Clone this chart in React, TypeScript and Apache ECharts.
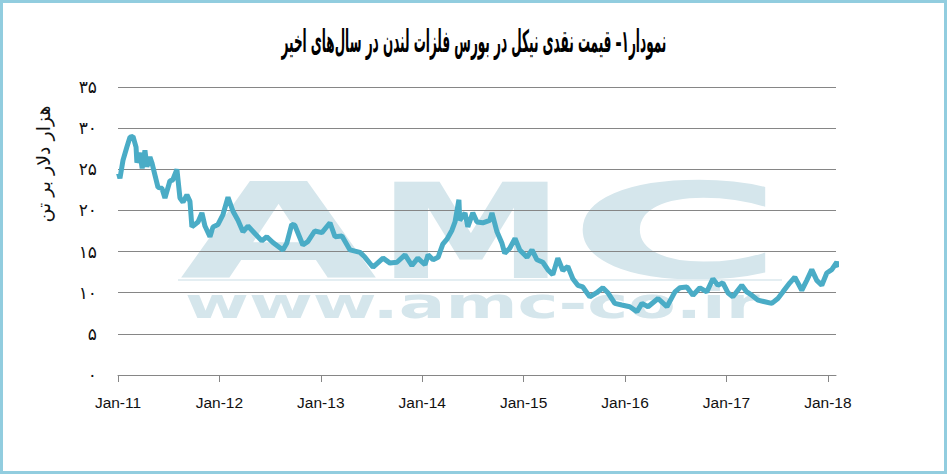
import React, { useEffect, useRef } from "react";
import * as echarts from "echarts";

// ---- data ----
const dates: string[] = [
  "2011-01-03","2011-01-08","2011-01-19","2011-02-02","2011-02-13","2011-02-24","2011-03-07","2011-03-10","2011-03-21","2011-03-29",
  "2011-04-08","2011-04-15","2011-04-26","2011-05-03","2011-05-14","2011-05-25","2011-06-08","2011-06-19","2011-07-07","2011-07-17",
  "2011-08-01","2011-08-12","2011-08-23","2011-09-06","2011-09-17","2011-09-24","2011-10-16","2011-10-30","2011-11-10","2011-11-28",
  "2011-12-09","2011-12-27","2012-01-14","2012-02-01","2012-02-19","2012-03-08","2012-03-26","2012-04-13","2012-05-08","2012-06-02",
  "2012-06-20","2012-07-12","2012-08-17","2012-08-31","2012-09-18","2012-09-29","2012-10-28","2012-11-15","2012-12-10","2013-01-05",
  "2013-02-03","2013-02-21","2013-03-18","2013-04-16","2013-05-22","2013-06-09","2013-07-08","2013-08-13","2013-09-07","2013-10-02",
  "2013-10-31","2013-11-25","2013-12-16","2014-01-11","2014-01-22","2014-02-09","2014-02-27","2014-03-16","2014-03-31","2014-04-18",
  "2014-04-29","2014-05-13","2014-05-16","2014-06-04","2014-06-14","2014-07-02","2014-07-17","2014-08-07","2014-09-01","2014-09-09",
  "2014-09-27","2014-10-15","2014-10-25","2014-11-12","2014-12-01","2014-12-18","2015-01-13","2015-01-31","2015-02-18","2015-03-11",
  "2015-03-29","2015-04-16","2015-05-04","2015-05-22","2015-06-09","2015-06-27","2015-07-15","2015-08-02","2015-08-27","2015-09-21",
  "2015-10-13","2015-10-31","2015-11-25","2015-12-20","2016-01-18","2016-02-13","2016-03-02","2016-03-24","2016-04-29","2016-05-31",
  "2016-06-29","2016-07-17","2016-08-11","2016-09-02","2016-09-27","2016-10-22","2016-11-13","2016-12-01","2016-12-19","2017-01-06",
  "2017-01-24","2017-02-25","2017-03-15","2017-04-02","2017-04-24","2017-05-19","2017-06-13","2017-07-05","2017-07-23","2017-08-17",
  "2017-09-04","2017-09-29","2017-10-17","2017-11-04","2017-11-22","2017-12-10","2017-12-28","2018-01-15","2018-02-02","2018-02-09",
];
const prices: number[] = [
  24.5,23.9,26.1,27.7,28.9,29.0,27.7,25.8,27.0,25.1,
  27.3,25.3,26.5,25.8,24.3,22.8,22.7,21.5,23.6,23.7,
  25.0,21.5,21.0,21.9,21.1,18.0,18.6,19.7,18.1,16.8,
  18.0,18.3,19.5,21.6,19.9,18.8,17.4,18.1,17.2,16.3,
  16.8,16.1,15.2,16.0,18.3,18.2,15.8,16.2,17.5,17.3,
  18.5,16.8,16.9,15.2,14.9,14.3,13.1,14.2,13.6,13.7,
  14.6,13.3,14.2,13.4,14.6,14.0,14.3,15.9,16.5,17.6,
  18.6,21.3,18.8,19.7,18.0,19.7,18.6,18.5,18.8,19.7,
  17.4,16.0,14.8,15.4,16.6,15.2,14.3,15.2,14.0,13.7,
  12.8,12.2,14.2,12.7,13.2,11.7,10.9,10.7,9.5,10.0,
  10.6,10.0,8.7,8.5,8.3,7.7,8.7,8.3,9.3,8.3,
  10.1,10.6,10.7,9.7,10.6,10.1,11.7,10.9,11.2,10.0,
  9.5,10.9,10.1,9.7,9.1,8.9,8.7,9.3,10.1,11.2,
  11.9,10.3,11.5,12.8,11.5,10.9,12.4,12.8,13.7,13.1,
];
const xTickYears: number[] = [2011, 2012, 2013, 2014, 2015, 2016, 2017, 2018];
const xTickLabels: string[] = ["Jan-11", "Jan-12", "Jan-13", "Jan-14", "Jan-15", "Jan-16", "Jan-17", "Jan-18"];
const yTickLabels: string[] = ["۰", "۵", "۱۰", "۱۵", "۲۰", "۲۵", "۳۰", "۳۵"];
const titleText = "نمودار۱– قیمت نقدی نیکل در بورس فلزات لندن در سال‌های اخیر";
const yAxisName = "هزار دلار بر تن";

const toYear = (s: string) => {
  const [y, m, d] = s.split("-").map(Number);
  const t = Date.UTC(y, m - 1, d);
  const a = Date.UTC(y, 0, 1);
  const b = Date.UTC(y + 1, 0, 1);
  return y + (t - a) / (b - a);
};

const measure = (text: string, font: string) => {
  const ctx = document.createElement("canvas").getContext("2d")!;
  ctx.font = font;
  return ctx.measureText(text).width;
};

export default function App() {
  const ref = useRef<HTMLDivElement>(null);
  useEffect(() => {
    document.body.style.margin = "0";
    const chart = echarts.init(ref.current!, undefined, { renderer: "svg" });
    const wm = "#d5e6ec";
    const wmFont = '"DejaVu Sans"';
    const letter = (ch: string, left: number, right: number, size: number, y: number) => {
      const w = measure(ch, `bold ${size}px ${wmFont}`);
      return {
        type: "text",
        x: left,
        y,
        scaleX: (right - left) / w,
        z: -5,
        silent: true,
        style: {
          text: ch,
          fill: wm,
          font: `bold ${size}px ${wmFont}`,
          textAlign: "left",
          textVerticalAlign: "middle",
        },
      };
    };
    const titleFont = 'bold 31px "DejaVu Sans Condensed", "DejaVu Sans"';
    const titleW = measure(titleText, titleFont);
    const data = dates.map((d, i) => [toYear(d), prices[i]]);
    chart.setOption({
      animation: false,
      grid: { left: 118, right: 111, top: 87, bottom: 99 },
      xAxis: {
        type: "value",
        min: 2011,
        max: 2018.08,
        interval: 1,
        splitLine: { show: false },
        axisLine: { show: true, lineStyle: { color: "#868686", width: 1 } },
        axisTick: {
          show: true,
          length: 7,
          customValues: xTickYears,
          lineStyle: { color: "#868686" },
        },
        axisLabel: {
          customValues: xTickYears,
          formatter: (v: number) => xTickLabels[xTickYears.indexOf(Math.round(v))] ?? "",
          color: "#111",
          fontSize: 15.5,
          fontFamily: '"Liberation Sans Narrow", "Liberation Sans"',
          margin: 19,
        },
      },
      yAxis: {
        type: "value",
        min: 0,
        max: 35,
        interval: 5,
        axisLine: { show: false },
        axisTick: { show: false },
        splitLine: { lineStyle: { color: "#868686", width: 1 } },
        axisLabel: {
          formatter: (v: number) => yTickLabels[Math.round(v / 5)],
          color: "#111",
          fontSize: 17,
          fontFamily: '"DejaVu Sans"',
          margin: 21,
        },
      },
      series: [
        {
          type: "line",
          data,
          showSymbol: false,
          symbol: "none",
          lineStyle: { color: "#4aacc6", width: 5 },
          z: 3,
        },
      ],
      graphic: [
        letter("A", 180, 377, 132, 232),
        letter("M", 377, 565, 132, 232),
        letter("C", 568, 784, 132, 232),
        {
          type: "rect",
          z: -5,
          silent: true,
          shape: { x: 178, y: 279, width: 604, height: 2 },
          style: { fill: "#e4eef2" },
        },
        (() => {
          const t = "www.amc-co.ir";
          const f = `bold 43px ${wmFont}`;
          const w = measure(t, f);
          return {
            type: "text",
            x: 185,
            y: 303,
            scaleX: (760 - 185) / w,
            z: -5,
            silent: true,
            style: { text: t, fill: wm, font: f, textAlign: "left", textVerticalAlign: "middle" },
          };
        })(),
        {
          type: "text",
          x: 474 - 385 / 2,
          y: 42,
          scaleX: 385 / titleW,
          silent: true,
          style: {
            text: titleText,
            fill: "#000",
            font: titleFont,
            textAlign: "left",
            textVerticalAlign: "middle",
          },
        },
        {
          type: "text",
          x: 43,
          y: 164,
          rotation: Math.PI / 2,
          silent: true,
          style: {
            text: yAxisName,
            fill: "#111",
            font: '19px "DejaVu Sans"',
            textAlign: "center",
            textVerticalAlign: "middle",
          },
        },
        {
          type: "rect",
          silent: true,
          z: 100,
          shape: { x: 1.5, y: 1.5, width: 944, height: 471 },
          style: { fill: "none", stroke: "#92cddf", lineWidth: 3 },
        },
      ],
    });
    return () => chart.dispose();
  }, []);
  return <div ref={ref} style={{ width: 947, height: 474 }} />;
}
